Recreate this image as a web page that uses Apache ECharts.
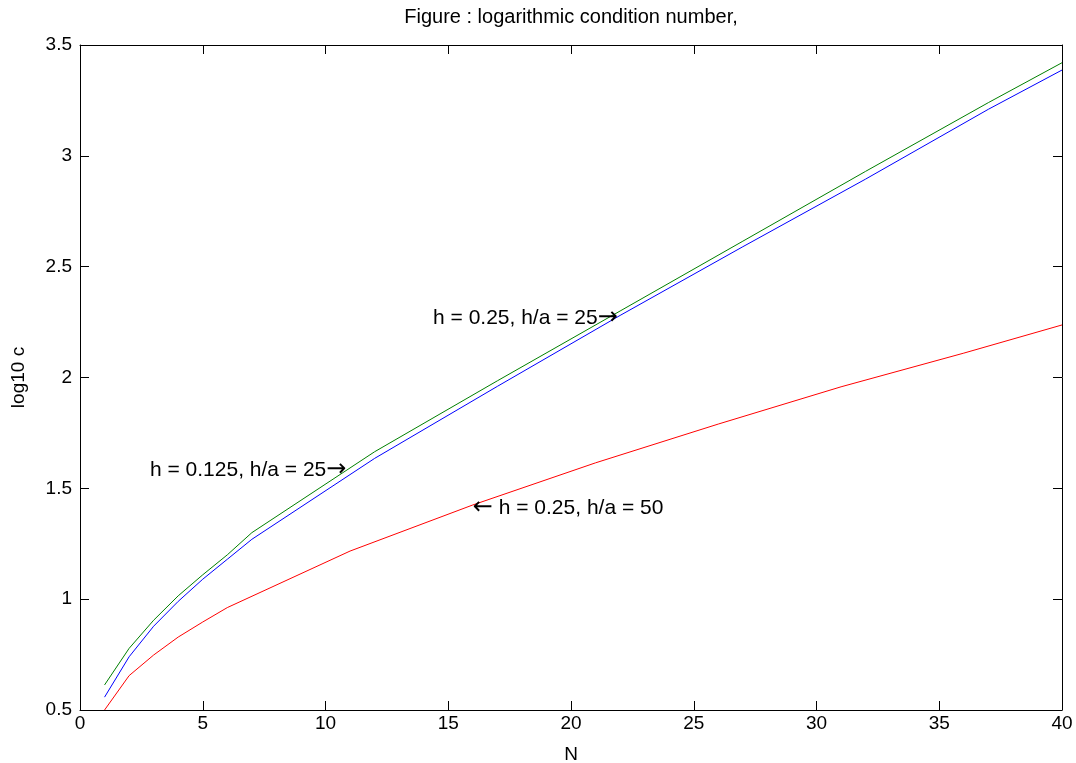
<!DOCTYPE html>
<html>
<head>
<meta charset="utf-8">
<script src="https://cdn.jsdelivr.net/npm/echarts@6/dist/echarts.min.js"></script>
<style>
  html, body { margin: 0; padding: 0; background: #fff; }
  #chart { width: 1076px; height: 763px; }
</style>
</head>
<body>
<div id="chart"></div>
<script>
// ---- data ----
const titleText = 'Figure : logarithmic condition number,';
const xName = 'N';
const yName = 'log10 c';

const nGreen = [1, 2, 3, 4, 5, 6, 7, 12, 17, 22, 27, 32, 37, 40];
const valGreen = [0.613, 0.778, 0.905, 1.015, 1.11, 1.20, 1.30, 1.665, 1.985, 2.30, 2.615, 2.93, 3.24, 3.42];

const nBlue = [1, 2, 3, 4, 5, 6, 7, 12, 17, 22, 27, 32, 37, 40];
const valBlue = [0.558, 0.74, 0.878, 0.99, 1.09, 1.18, 1.27, 1.635, 1.96, 2.28, 2.59, 2.895, 3.21, 3.387];

const nRed = [1, 2, 3, 4, 5, 6, 11, 16, 21, 26, 31, 36, 40];
const valRed = [0.50, 0.655, 0.748, 0.829, 0.897, 0.962, 1.217, 1.425, 1.615, 1.79, 1.958, 2.11, 2.237];

// annotation texts and arrow side
const annoText = ['h = 0.25, h/a = 25', 'h = 0.125, h/a = 25', 'h = 0.25, h/a = 50'];
const annoArrow = ['right', 'right', 'left'];
const annoX = [14.38, 2.85, 16.0];
const annoY = [2.268, 1.583, 1.411];

const xMin = 0, xMax = 40, xStep = 5;
const yMin = 0.5, yMax = 3.5, yStep = 0.5;

// ---- chart ----
const font = 'Liberation Sans, Arial, Helvetica, sans-serif';
const pair = (xs, ys) => xs.map((x, i) => [x, ys[i]]);

const axisCommon = {
  type: 'value',
  axisLine: { show: true, onZero: false, lineStyle: { color: '#000', width: 1 } },
  axisTick: { show: true, inside: true, length: 9, lineStyle: { color: '#000', width: 1 } },
  splitLine: { show: false },
};

const chart = echarts.init(document.getElementById('chart'), null, { renderer: 'canvas' });
chart.setOption({
  animation: false,
  backgroundColor: '#fff',
  title: {
    text: titleText,
    left: 566, top: 2, textAlign: 'center',
    textStyle: { fontFamily: font, fontSize: 20, fontWeight: 'normal', color: '#000' }
  },
  grid: { left: 80, right: 14, top: 45, bottom: 53, containLabel: false, outerBoundsMode: 'none' },
  xAxis: [
    Object.assign({}, axisCommon, {
      position: 'bottom', min: xMin, max: xMax, interval: xStep,
      name: xName, nameLocation: 'middle', nameGap: 35,
      nameTextStyle: { fontFamily: font, fontSize: 19, color: '#000' },
      axisLabel: { show: true, margin: 4, fontFamily: font, fontSize: 19, color: '#000' }
    }),
    Object.assign({}, axisCommon, {
      position: 'top', min: xMin, max: xMax, interval: xStep,
      axisLabel: { show: false }
    })
  ],
  yAxis: [
    Object.assign({}, axisCommon, {
      position: 'left', min: yMin, max: yMax, interval: yStep,
      name: yName, nameLocation: 'middle', nameGap: 52, nameRotate: 90,
      nameTextStyle: { fontFamily: font, fontSize: 19, color: '#000' },
      axisLabel: { show: true, margin: 8, fontFamily: font, fontSize: 19, color: '#000' }
    }),
    Object.assign({}, axisCommon, {
      position: 'right', min: yMin, max: yMax, interval: yStep,
      axisLabel: { show: false }
    })
  ],
  series: [
    {
      name: 'green', type: 'line', data: pair(nGreen, valGreen),
      showSymbol: false, symbol: 'none', lineStyle: { color: '#008000', width: 1 }, z: 3
    },
    {
      name: 'blue', type: 'line', data: pair(nBlue, valBlue),
      showSymbol: false, symbol: 'none', lineStyle: { color: '#0000ff', width: 1 }, z: 3
    },
    {
      name: 'red', type: 'line', data: pair(nRed, valRed),
      showSymbol: false, symbol: 'none', lineStyle: { color: '#ff0000', width: 1 }, z: 3
    },
    {
      name: 'annotations', type: 'scatter', symbolSize: 0, z: 5, silent: true,
      itemStyle: { opacity: 1 },
      data: annoText.map((t, i) => ({ name: t, value: [annoX[i], annoY[i]] })),
      label: {
        show: true, position: 'right', distance: 0, color: '#000', opacity: 1,
        formatter: p => {
          const i = p.dataIndex;
          return annoArrow[i] === 'right'
            ? '{t|' + annoText[i] + '}{a|\u2192}'
            : '{a|\u2190}{t| ' + annoText[i] + '}';
        },
        rich: {
          t: { fontFamily: font, fontSize: 21, color: '#000' },
          a: { fontFamily: 'DejaVu Sans', fontSize: 24, color: '#000' }
        }
      }
    }
  ]
});
</script>
</body>
</html>
